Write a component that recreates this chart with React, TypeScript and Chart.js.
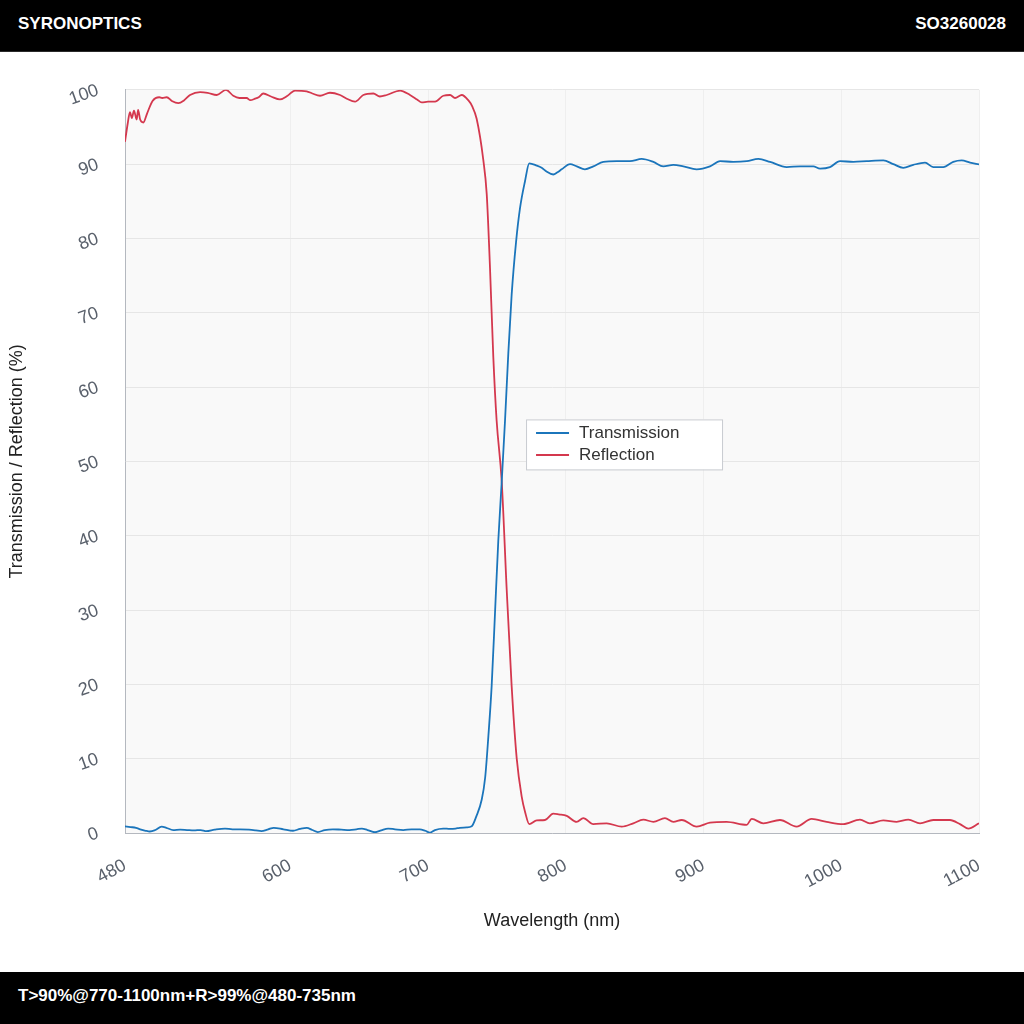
import { Chart, registerables } from "chart.js";
import { useEffect, useRef } from "react";

Chart.register(...registerables);

const transWave = [
  480, 484, 488, 491, 495, 498, 502, 506.6, 510, 515, 520, 525, 530, 535, 539,
  545, 552.6, 558, 563.5, 570, 575, 579, 584, 588, 595, 602, 607, 612, 616, 620,
  625, 631, 637, 643, 648, 652, 656, 661.5, 666, 671, 676, 682, 688, 694, 698,
  701.4, 705, 711, 716, 720, 723, 728, 731.7, 735, 739, 741.5, 743.8, 746.2,
  748.6, 751, 753.5, 755.9, 758.3, 760.7, 763.9, 766.8, 770.4, 773.5, 778.9,
  782.5, 786, 790.9, 794, 797, 803.1, 808, 813.9, 820, 827.3, 837, 846.6, 855.1,
  863.6, 870.8, 878.1, 885.3, 895, 904.7, 912, 921.6, 931.4, 939.8, 948.3,
  960.4, 970.1, 979.7, 984.6, 991.8, 999.1, 1008.8, 1018.5, 1030.5, 1037.8,
  1045, 1052.3, 1060.8, 1066.8, 1074.1, 1081.3, 1087.4, 1093.5, 1100,
];
const transValues = [
  0.9, 0.8, 0.7, 0.5, 0.3, 0.2, 0.4, 0.85, 0.7, 0.4, 0.45, 0.4, 0.35, 0.4, 0.25,
  0.45, 0.6, 0.5, 0.5, 0.45, 0.35, 0.25, 0.5, 0.7, 0.5, 0.3, 0.55, 0.7, 0.4,
  0.13, 0.4, 0.5, 0.45, 0.4, 0.5, 0.6, 0.4, 0.1, 0.35, 0.6, 0.5, 0.4, 0.5, 0.5,
  0.3, 0.05, 0.4, 0.6, 0.55, 0.6, 0.7, 0.75, 0.9, 2.2, 4.5, 7.5, 13, 19.8, 29.5,
  39.3, 47.3, 55.5, 64.6, 72.4, 79.5, 84.1, 87.7, 90.1, 89.8, 89.5, 89, 88.6,
  88.9, 89.3, 90, 89.7, 89.3, 89.7, 90.3, 90.4, 90.4, 90.7, 90.3, 89.7, 89.9,
  89.7, 89.3, 89.7, 90.4, 90.3, 90.4, 90.7, 90.3, 89.6, 89.7, 89.7, 89.4, 89.6,
  90.4, 90.3, 90.4, 90.5, 90, 89.5, 89.9, 90.2, 89.6, 89.6, 90.3, 90.5, 90.2,
  89.95,
];

const reflWave = [
  480, 482, 483.6, 485, 486.5, 488.5, 489.5, 491, 493.3, 496, 500, 504.9, 507,
  510.3, 514, 518.7, 523, 527.2, 534.5, 540, 546.6, 553.3, 558.6, 563, 568.3,
  571, 574.4, 577, 580.4, 586, 592.5, 598, 603.4, 611.9, 616, 621.6, 628.8,
  636.1, 641, 647, 653, 660.3, 665, 670, 679.7, 686.9, 692, 695.4, 700, 705.1,
  711.1, 716, 719.6, 724.5, 729.2, 732, 735.3, 740.1, 742.6, 745, 747.4, 749.8,
  753.5, 757.1, 760.7, 764.4, 768, 770.5, 773.5, 778.9, 784.9, 790.9, 795,
  800.7, 807.9, 812.7, 820, 829.7, 840.6, 849, 856.3, 863.6, 872, 878.1, 884.2,
  895, 904.7, 916.8, 931.3, 935, 943.4, 955.5, 967.6, 978.5, 989.4, 1001.5,
  1013.6, 1020.8, 1030.5, 1040.2, 1048.7, 1057.2, 1066.8, 1078.9, 1086.2,
  1092.2, 1100,
];
const reflValues = [
  93, 95.5, 97, 96.2, 97.2, 96, 97.3, 96, 95.6, 96.8, 98.5, 99, 98.9, 99, 98.5,
  98.2, 98.6, 99.3, 99.7, 99.6, 99.3, 100, 99.2, 98.9, 98.9, 98.6, 98.8, 99,
  99.5, 99.1, 98.7, 99.2, 99.9, 99.8, 99.5, 99.2, 99.6, 99.3, 98.8, 98.4, 99.3,
  99.5, 99.1, 99.3, 99.9, 99.3, 98.7, 98.3, 98.4, 98.4, 99.2, 99.3, 98.9, 99.3,
  98.6, 97.8, 96.1, 90.6, 86, 76, 64, 55.5, 47.3, 32.8, 19.8, 10, 4.9, 2.8, 1.2,
  1.7, 1.75, 2.6, 2.5, 2.3, 1.5, 2, 1.2, 1.3, 0.85, 1.3, 1.8, 1.5, 2, 1.5, 1.75,
  0.85, 1.4, 1.5, 1.1, 1.9, 1.3, 1.75, 0.85, 1.9, 1.5, 1.2, 1.8, 1.3, 1.7, 1.5,
  1.8, 1.3, 1.75, 1.75, 1.2, 0.6, 1.3,
];

const xTickValues = [480, 600, 700, 800, 900, 1000, 1100];
const seriesNames = ["Transmission", "Reflection"];
const seriesColors = ["#1b75bb", "#d4384e"];

const FONT = "'Liberation Sans', Arial, Helvetica, sans-serif";

// light grey plot area
const plotBackground = {
  id: "plotBackground",
  beforeDraw(chart: any) {
    const { ctx, chartArea } = chart;
    ctx.save();
    ctx.fillStyle = "#f9f9f9";
    ctx.fillRect(chartArea.left, chartArea.top, chartArea.width, chartArea.height);
    ctx.restore();
  },
};

// boxed legend sitting inside the plot
const boxLegend = {
  id: "boxLegend",
  afterDraw(chart: any) {
    const { ctx, chartArea } = chart;
    const x = chartArea.left + chartArea.width * 0.4696;
    const y = chartArea.top + chartArea.height * 0.4435;
    const w = 196;
    const h = 50;
    ctx.save();
    ctx.fillStyle = "#ffffff";
    ctx.fillRect(x, y, w, h);
    ctx.strokeStyle = "#c9ccd1";
    ctx.lineWidth = 1;
    ctx.strokeRect(x + 0.5, y + 0.5, w, h);
    ctx.font = `17px ${FONT}`;
    ctx.textBaseline = "middle";
    chart.data.datasets.forEach((ds: any, i: number) => {
      const ly = y + 13.5 + i * 22;
      ctx.strokeStyle = ds.borderColor;
      ctx.lineWidth = 2;
      ctx.beginPath();
      ctx.moveTo(x + 10, ly);
      ctx.lineTo(x + 43, ly);
      ctx.stroke();
      ctx.fillStyle = "#333333";
      ctx.fillText(ds.label, x + 53, ly);
    });
    ctx.restore();
  },
};

const SpectrumChart = () => {
  const canvasRef = useRef<HTMLCanvasElement>(null);

  useEffect(() => {
    if (!canvasRef.current) return;
    const chart = new Chart(canvasRef.current, {
      type: "line",
      data: {
        datasets: [
          {
            label: seriesNames[0],
            data: transWave.map((w, i) => ({ x: w, y: transValues[i] })),
            borderColor: seriesColors[0],
            borderWidth: 1.8,
            pointRadius: 0,
            cubicInterpolationMode: "monotone",
          },
          {
            label: seriesNames[1],
            data: reflWave.map((w, i) => ({ x: w, y: reflValues[i] })),
            borderColor: seriesColors[1],
            borderWidth: 1.8,
            pointRadius: 0,
            cubicInterpolationMode: "monotone",
          },
        ],
      },
      options: {
        animation: false,
        responsive: true,
        maintainAspectRatio: false,
        layout: { padding: { top: 37, right: 45, left: 0, bottom: 0 } },
        plugins: {
          legend: { display: false },
          tooltip: { enabled: false },
        },
        scales: {
          x: {
            type: "linear",
            min: 480,
            max: 1100,
            afterBuildTicks: (scale: any) => {
              scale.ticks = xTickValues.map((v) => ({ value: v }));
            },
            afterFit: (scale: any) => {
              scale.height = 139;
            },
            grid: { color: "#efefef", drawTicks: false },
            border: { color: "#b4b8bf" },
            ticks: {
              minRotation: 28,
              maxRotation: 28,
              padding: 22,
              color: "#59606b",
              font: { family: FONT, size: 18 },
              callback: (value: any) => String(value),
            },
            title: {
              display: true,
              text: "Wavelength (nm)",
              color: "#222222",
              font: { family: FONT, size: 18 },
              padding: { top: 0, bottom: 40 },
            },
          },
          y: {
            min: 0,
            max: 100,
            afterFit: (scale: any) => {
              scale.width = 125;
            },
            grid: { color: "#e6e6e6", drawTicks: false },
            border: { color: "#b4b8bf" },
            ticks: {
              stepSize: 10,
              minRotation: 20,
              maxRotation: 20,
              padding: 27,
              color: "#59606b",
              font: { family: FONT, size: 18 },
              callback: (value: any) => String(value),
            },
            title: {
              display: true,
              text: "Transmission / Reflection (%)",
              color: "#222222",
              font: { family: FONT, size: 18 },
              padding: { top: 6, bottom: 0 },
            },
          },
        },
      },
      plugins: [plotBackground, boxLegend],
    });
    return () => chart.destroy();
  }, []);

  return (
    <div style={{ position: "relative", width: 1024, height: 920 }}>
      <canvas ref={canvasRef}></canvas>
    </div>
  );
};

export default function App() {
  useEffect(() => {
    document.body.style.margin = "0";
  }, []);

  const band = {
    background: "#000000",
    color: "#ffffff",
    fontFamily: FONT,
    fontWeight: 700,
    fontSize: 17,
    display: "flex",
    alignItems: "center",
    justifyContent: "space-between",
    padding: "0 18px",
    boxSizing: "border-box" as const,
    width: 1024,
  };

  return (
    <div style={{ width: 1024, height: 1024, background: "#ffffff", overflow: "hidden" }}>
      <div style={{ ...band, height: 52, borderBottom: "1px solid #2a2a2a", paddingBottom: 4 }}>
        <span>SYRONOPTICS</span>
        <span>SO3260028</span>
      </div>
      <SpectrumChart />
      <div style={{ ...band, height: 52, paddingBottom: 4 }}>
        <span>T&gt;90%@770-1100nm+R&gt;99%@480-735nm</span>
      </div>
    </div>
  );
}
